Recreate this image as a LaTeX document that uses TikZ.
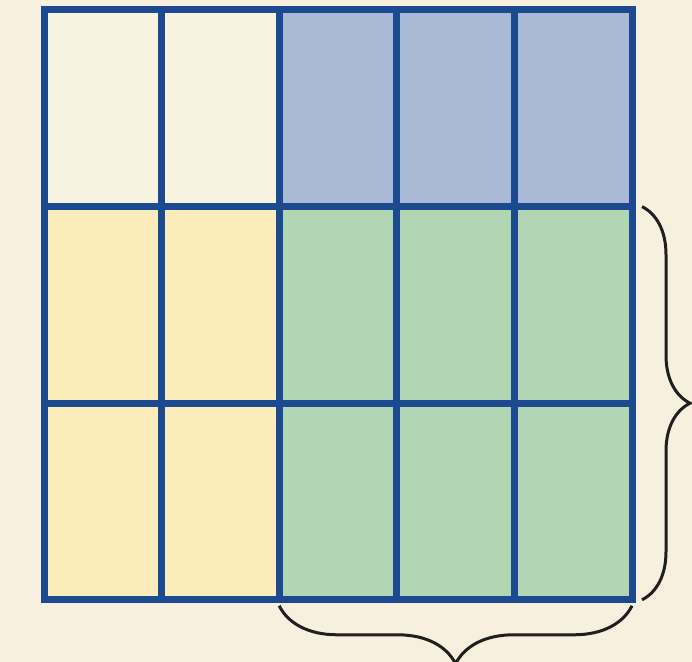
\documentclass[tikz,border=0pt]{standalone}
\usetikzlibrary{positioning,decorations.pathreplacing}
\definecolor{pagecream}{RGB}{247,240,222}
\definecolor{cellcream}{RGB}{248,242,225}
\definecolor{cellblue}{RGB}{169,185,214}
\definecolor{cellyellow}{RGB}{253,236,187}
\definecolor{cellgreen}{RGB}{178,214,180}
\definecolor{gridblue}{RGB}{28,74,145}
\begin{document}
\begin{tikzpicture}[x=0.5pt, y=-0.5pt,
    cell/.style={draw=gridblue, line width=3.5pt, fill=#1, minimum width=58.8pt, minimum height=98.3pt, inner sep=0pt, outer sep=0pt},
    curly/.style={decoration={brace, amplitude=#1}, decorate, line width=1.5pt, draw=black!88},
]
\fill[pagecream] (0,0) rectangle (692,662);
\useasboundingbox (0,0) rectangle (692,662);

% top row
\node[cell=cellcream] (r1c1) at (102.8,108.3) {};
\node[cell=cellcream, right=0pt of r1c1] (r1c2) {};
\node[cell=cellblue, right=0pt of r1c2] (r1c3) {};
\node[cell=cellblue, right=0pt of r1c3] (r1c4) {};
\node[cell=cellblue, right=0pt of r1c4] (r1c5) {};

% lower rows
\foreach \r/\p in {2/1,3/2} {
  \node[cell=cellyellow, below=0pt of r\p c1] (r\r c1) {};
  \node[cell=cellyellow, right=0pt of r\r c1] (r\r c2) {};
  \node[cell=cellgreen, right=0pt of r\r c2] (r\r c3) {};
  \node[cell=cellgreen, right=0pt of r\r c3] (r\r c4) {};
  \node[cell=cellgreen, right=0pt of r\r c4] (r\r c5) {};
}

% braces
\draw[curly=24pt] ([xshift=5pt]r2c5.north east) -- ([xshift=5pt]r3c5.south east);
\draw[curly=29pt] ([yshift=-3pt]r3c5.south east) -- ([yshift=-3pt]r3c3.south west);
\end{tikzpicture}
\end{document}
